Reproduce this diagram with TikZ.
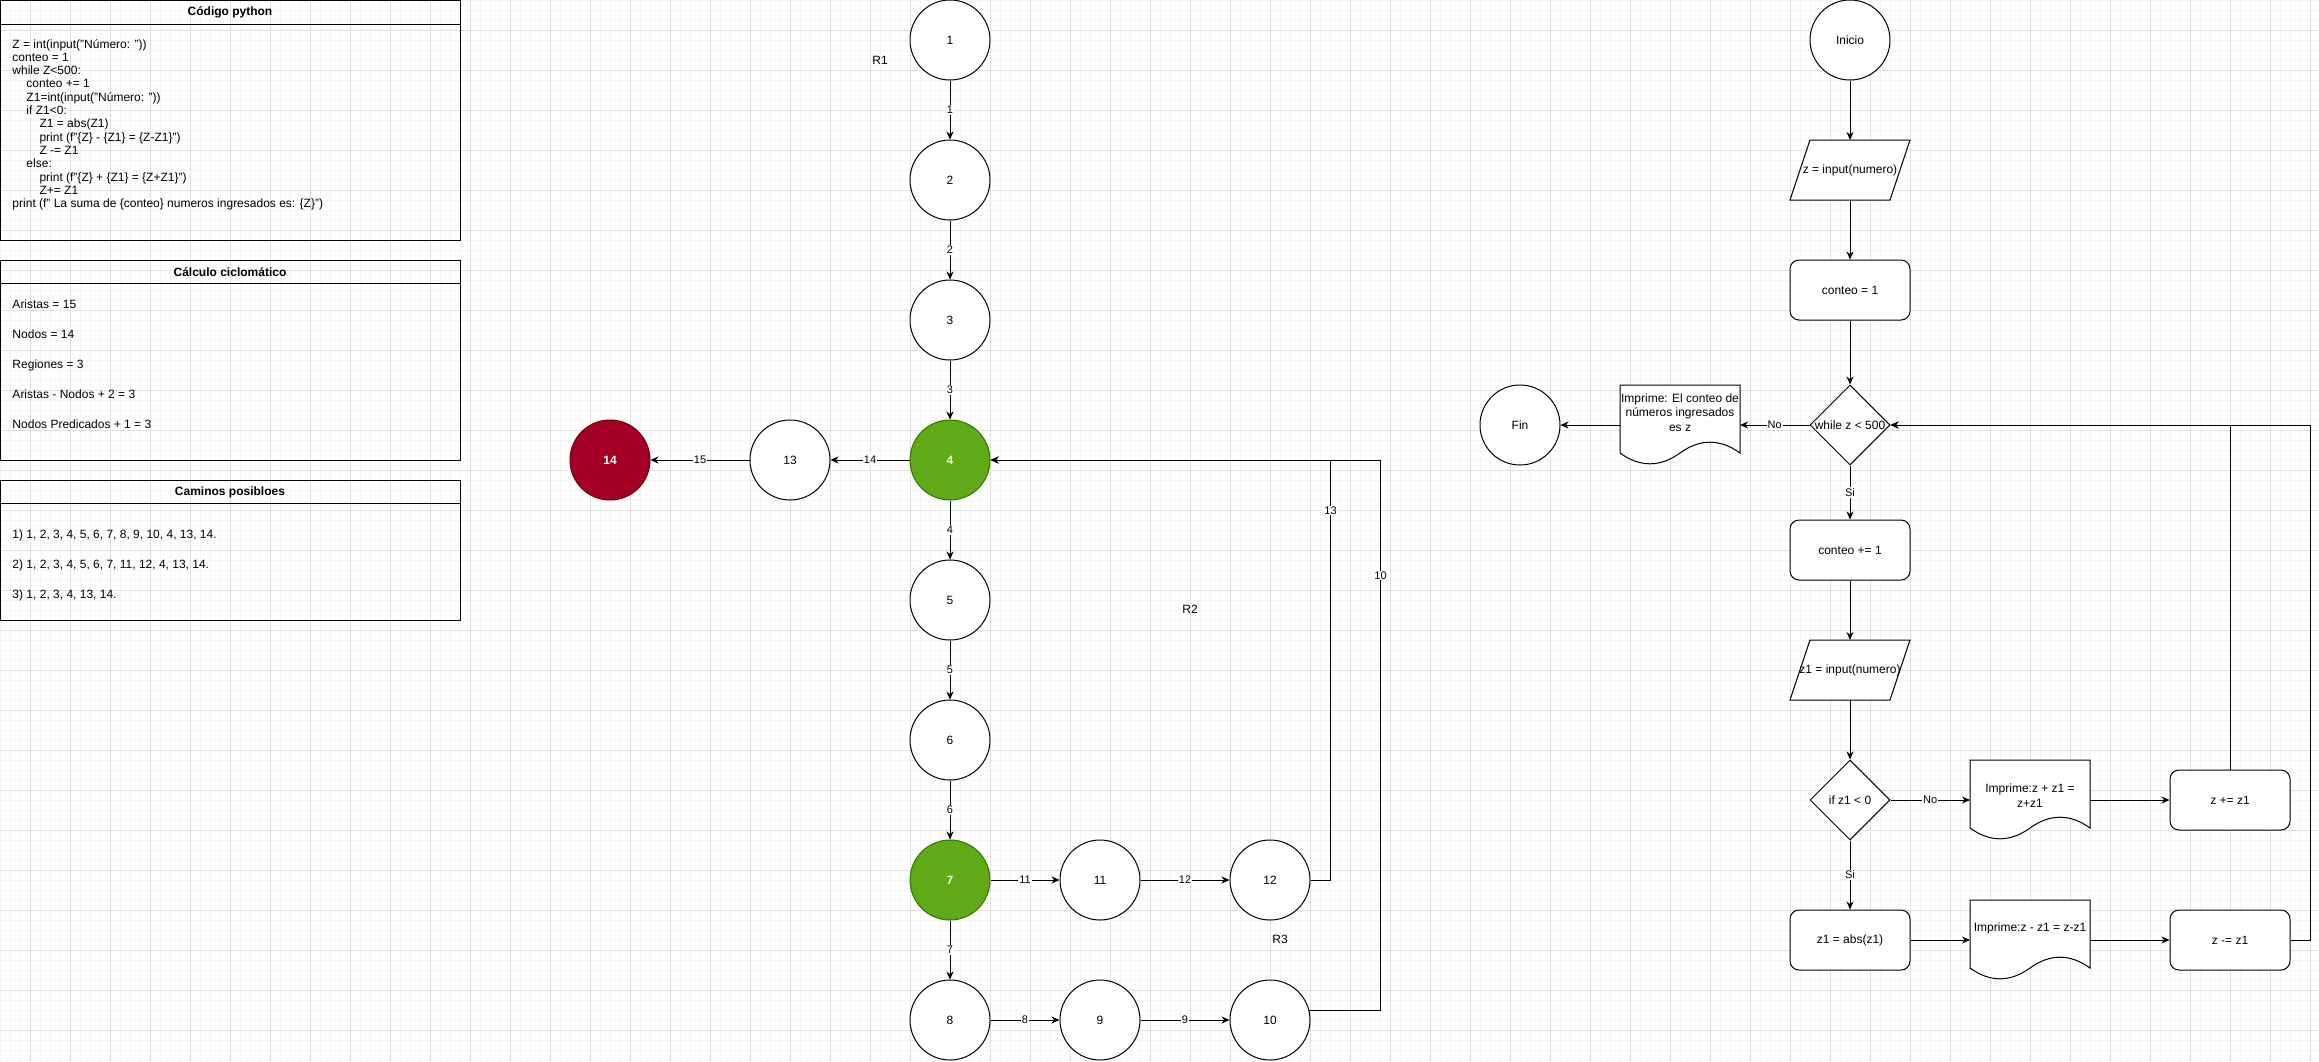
\documentclass[tikz,border=0pt]{standalone}
\usepackage{fontspec}
\setmainfont{Liberation Sans}
\usetikzlibrary{arrows.meta,shapes.geometric}

\definecolor{hotfill}{HTML}{60A917}
\definecolor{hotline}{HTML}{2D7600}
\definecolor{endfill}{HTML}{A20025}
\definecolor{endline}{HTML}{6F0000}

\tikzset{
  gridmin/.style={black!4},
  gridmaj/.style={black!12},
  arr/.style={-{Stealth[length=8pt,width=7pt,inset=2.5pt]}},
  txt/.style={inner sep=0pt, align=center, font=\fontsize{12}{14.4}\selectfont},
  ttl/.style={inner sep=0pt, font=\fontsize{12}{14.4}\selectfont\bfseries},
  code/.style={inner sep=0pt, anchor=base west, font=\fontsize{12}{13.3}\selectfont},
  elab/.style={fill=white, inner sep=1pt, font=\fontsize{11}{13.2}\selectfont},
  cnode/.style={circle, draw, fill=white, minimum size=80pt, inner sep=0pt,
    font=\fontsize{12}{14.4}\selectfont},
  hot/.style={cnode, draw=hotline, fill=hotfill, text=white,
    font=\fontsize{12}{14.4}\selectfont\bfseries},
  endnode/.style={cnode, draw=endline, fill=endfill, text=white,
    font=\fontsize{12}{14.4}\selectfont\bfseries},
  box/.style={rectangle, rounded corners=9pt, draw, fill=white, minimum width=120pt,
    minimum height=60pt, inner sep=0pt, font=\fontsize{12}{14.4}\selectfont},
  dec/.style={diamond, draw, fill=white, minimum width=80pt, minimum height=80pt,
    inner sep=0pt},
  io/.style={rectangle, minimum width=120pt, minimum height=60pt, inner sep=0pt,
    outer sep=0pt},
  doc/.style={rectangle, minimum width=120pt, minimum height=80pt, inner sep=0pt,
    outer sep=0pt}
}

% outline of a printed document, hung from the node's top left corner
\newcommand\docshape[1]{%
  \filldraw[fill=white, shift={(#1.north west)}] (0,0) -- (120,0) -- (120,68)
    .. controls (100,53.6) and (80,53.6) .. (60,68)
    .. controls (40,82.4) and (20,82.4) .. (0,68) -- cycle;}
% slanted input box
\newcommand\ioshape[1]{%
  \filldraw[fill=white, shift={(#1.north west)}]
    (20,0) -- (120,0) -- (100,60) -- (0,60) -- cycle;}

\begin{document}
\begin{tikzpicture}[x=1pt, y=-1pt, line width=1pt]
  \useasboundingbox (0,0) rectangle (2319,1061);
  % background grid
  \foreach \g in {0,10,...,2310} \draw[gridmin] (\g,0) -- (\g,1061);
  \foreach \g in {0,10,...,1060} \draw[gridmin] (0,\g) -- (2319,\g);
  \foreach \g in {30,70,...,2310} \draw[gridmaj] (\g,0) -- (\g,1061);
  \foreach \g in {30,70,...,1050} \draw[gridmaj] (0,\g) -- (2319,\g);

  % code box
  \draw (0.5,0.5) rectangle (460,240);
  \draw (0.5,24) -- (460,24);
  \node[ttl] (t1) at (230,12) {Código python};
  \foreach \x/\t [count=\i] in {%
    12/{Z = int(input("Número: "))},
    12/{conteo = 1},
    12/{while Z<500:},
    26/{conteo += 1},
    26/{Z1=int(input("Número: "))},
    26/{if Z1<0:},
    39/{Z1 = abs(Z1)},
    39/{print (f"\{Z\} - \{Z1\} = \{Z-Z1\}")},
    39/{Z -= Z1},
    26/{else:},
    39/{print (f"\{Z\} + \{Z1\} = \{Z+Z1\}")},
    39/{Z+= Z1},
    12/{print (f" La suma de \{conteo\} numeros ingresados es: \{Z\}")}} {
    \node[code] (cod\i) at (\x,{48+(\i-1)*13.33}) {\t};
  }

  % cyclomatic box
  \draw (0.5,260) rectangle (460,460);
  \draw (0.5,283) -- (460,283);
  \node[ttl] (t2) at (230,272) {Cálculo ciclomático};
  \foreach \t [count=\i] in {Aristas = 15, Nodos = 14, Regiones = 3,
    Aristas - Nodos + 2 = 3, Nodos Predicados + 1 = 3} {
    \node[code] (cic\i) at (12,{308+(\i-1)*30}) {\t};
  }

  % paths box
  \draw (0.5,480) rectangle (460,620);
  \draw (0.5,503) -- (460,503);
  \node[ttl] (t3) at (230,492) {Caminos posibloes};
  \foreach \t [count=\i] in {%
    {1) 1, 2, 3, 4, 5, 6, 7, 8, 9, 10, 4, 13, 14.},
    {2) 1, 2, 3, 4, 5, 6, 7, 11, 12, 4, 13, 14.},
    {3) 1, 2, 3, 4, 13, 14.}} {
    \node[code] (cam\i) at (12,{538+(\i-1)*30.3}) {\t};
  }

  % flow graph
  \foreach \n/\x/\y/\s in {1/950/40/cnode, 2/950/180/cnode, 3/950/320/cnode,
    4/950/460/hot, 5/950/600/cnode, 6/950/740/cnode, 7/950/880/hot,
    8/950/1020/cnode, 9/1100/1020/cnode, 10/1270/1020/cnode,
    11/1100/880/cnode, 12/1270/880/cnode, 13/790/460/cnode, 14/610/460/endnode} {
    \node[\s] (n\n) at (\x,\y) {\n};
  }
  \foreach \a/\b/\l in {1/2/1, 2/3/2, 3/4/3, 4/5/4, 5/6/5, 6/7/6, 7/8/7,
    8/9/8, 9/10/9, 7/11/11, 11/12/12, 4/13/14, 13/14/15} {
    \draw[arr] (n\a) -- node[elab] (e\l) {\l} (n\b);
  }
  \draw[arr] (n12.east) -- ++(20,0) |- node[elab, pos=0.44] (e13) {13} (n4.east);
  \draw[arr] (n10.14.5) -- ++(71.3,0) |- node[elab, pos=0.395] (e10) {10} (n4.east);
  \node[txt] (r1) at (880,60) {R1};
  \node[txt] (r2) at (1190,609) {R2};
  \node[txt] (r3) at (1280,939) {R3};

  % flowchart
  \node[cnode] (ini) at (1850,40) {Inicio};
  \node[io] (in1) at (1850,170) {};
  \ioshape{in1}
  \node[txt] (in1t) at (in1) {z = input(numero)};
  \node[box] (c1) at (1850,290) {conteo = 1};
  \node[dec] (w1) at (1850,425) {};
  \node[txt] (w1t) at (w1) {while z < 500};
  \node[doc] (p1) at (1680,425) {};
  \docshape{p1}
  \node[txt] (p1t) at (1680,412.5) {Imprime: El conteo de\\números ingresados\\es z};
  \node[cnode] (fin) at (1520,425) {Fin};
  \node[box] (c2) at (1850,550) {conteo += 1};
  \node[io] (in2) at (1850,670) {};
  \ioshape{in2}
  \node[txt] (in2t) at (in2) {z1 = input(numero)};
  \node[dec] (w2) at (1850,800) {};
  \node[txt] (w2t) at (w2) {if z1 < 0};
  \node[doc] (p2) at (2030,800) {};
  \docshape{p2}
  \node[txt] (p2t) at (2030,795.5) {Imprime:z + z1 =\\z+z1};
  \node[box] (s1) at (2230,800) {z += z1};
  \node[box] (a1) at (1850,940) {z1 = abs(z1)};
  \node[doc] (p4) at (2030,940) {};
  \docshape{p4}
  \node[txt] (p4t) at (2030,928) {Imprime:z - z1 = z-z1};
  \node[box] (s2) at (2230,940) {z -= z1};

  \draw[arr] (ini) -- (in1);
  \draw[arr] (in1) -- (c1);
  \draw[arr] (c1) -- (w1);
  \draw[arr] (w1) -- node[elab] (lno1) {No} (p1);
  \draw[arr] (p1) -- (fin);
  \draw[arr] (w1) -- node[elab] (lsi1) {Si} (c2);
  \draw[arr] (c2) -- (in2);
  \draw[arr] (in2) -- (w2);
  \draw[arr] (w2) -- node[elab] (lno2) {No} (p2);
  \draw[arr] (p2) -- (s1);
  \draw[arr] (w2) -- node[elab] (lsi2) {Si} (a1);
  \draw[arr] (a1) -- (p4);
  \draw[arr] (p4) -- (s2);
  % back to the loop test
  \draw[arr] (s1.north) |- (w1.east);
  \draw[arr] (s2.east) -- ++(20,0) |- (w1.east);
\end{tikzpicture}
\end{document}
